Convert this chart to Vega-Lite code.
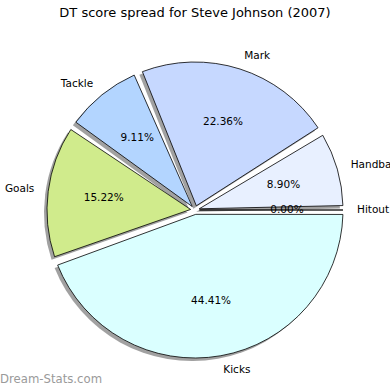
{
  "$schema": "https://vega.github.io/schema/vega-lite/v6.json",
  "width": 390,
  "height": 360,
  "autosize": {"type": "none"},
  "padding": {"top": 30, "left": 0, "right": 0, "bottom": 0},
  "background": "white",
  "title": {"text": "DT score spread for Steve Johnson (2007)", "font": "DejaVu Sans", "fontSize": 13, "fontWeight": "normal", "color": "black", "baseline": "alphabetic", "offset": 0, "anchor": "middle", "frame": "group"},
  "config": {"view": {"stroke": null}},
  "data": {"values": [
    {"cat": "Hitout", "share": 0.0, "k": 0},
    {"cat": "Handball", "share": 0.0890, "k": 1},
    {"cat": "Mark", "share": 0.2236, "k": 2},
    {"cat": "Tackle", "share": 0.0911, "k": 3},
    {"cat": "Goals", "share": 0.1522, "k": 4},
    {"cat": "Kicks", "share": 0.4441, "k": 5}
  ]},
  "layer": [
    {
      "mark": {"type": "arc", "radius": 148, "innerRadius": 4.4, "padAngle": 0.06, "xOffset": -3, "yOffset": 3, "fill": "#444444", "opacity": 0.5},
      "encoding": {
        "theta": {"field": "share", "type": "quantitative", "stack": true, "scale": {"type": "linear", "domain": [0, 1], "range": [1.5707963, -4.712389]}},
        "order": {"field": "k", "type": "quantitative"}
      }
    },
    {
      "mark": {"type": "arc", "radius": 148, "innerRadius": 4.4, "padAngle": 0.06, "stroke": "black", "strokeWidth": 0.8},
      "encoding": {
        "theta": {"field": "share", "type": "quantitative", "stack": true},
        "order": {"field": "k", "type": "quantitative"},
        "color": {"field": "cat", "type": "nominal", "legend": null, "scale": {"domain": ["Hitout", "Handball", "Mark", "Tackle", "Goals", "Kicks"], "range": ["#ffffff", "#e8f0ff", "#c6d8ff", "#b3d5ff", "#d0eb8c", "#daffff"]}}
      }
    },
    {
      "mark": {"type": "text", "radius": 92, "font": "DejaVu Sans", "fontSize": 10.5, "color": "black", "align": "center", "baseline": "middle"},
      "encoding": {
        "theta": {"field": "share", "type": "quantitative", "stack": true},
        "order": {"field": "k", "type": "quantitative"},
        "text": {"field": "share", "type": "quantitative", "format": ".2%"}
      }
    },
    {
      "mark": {"type": "text", "radius": 162, "font": "DejaVu Sans", "fontSize": 10.5, "color": "black", "baseline": "middle", "align": {"expr": "abs((datum.share_start + datum.share_end) / 2 - 0.5) > 0.25 ? 'left' : 'right'"}},
      "encoding": {
        "theta": {"field": "share", "type": "quantitative", "stack": true},
        "order": {"field": "k", "type": "quantitative"},
        "text": {"field": "cat", "type": "nominal"}
      }
    },
    {
      "data": {"values": [{"t": "Dream-Stats.com"}]},
      "mark": {"type": "text", "font": "DejaVu Sans", "fontSize": 11.7, "fontWeight": "normal", "color": "#9a9a9a", "align": "left", "baseline": "alphabetic"},
      "encoding": {
        "x": {"value": 0},
        "y": {"value": 353},
        "text": {"field": "t", "type": "nominal"}
      }
    }
  ]
}
